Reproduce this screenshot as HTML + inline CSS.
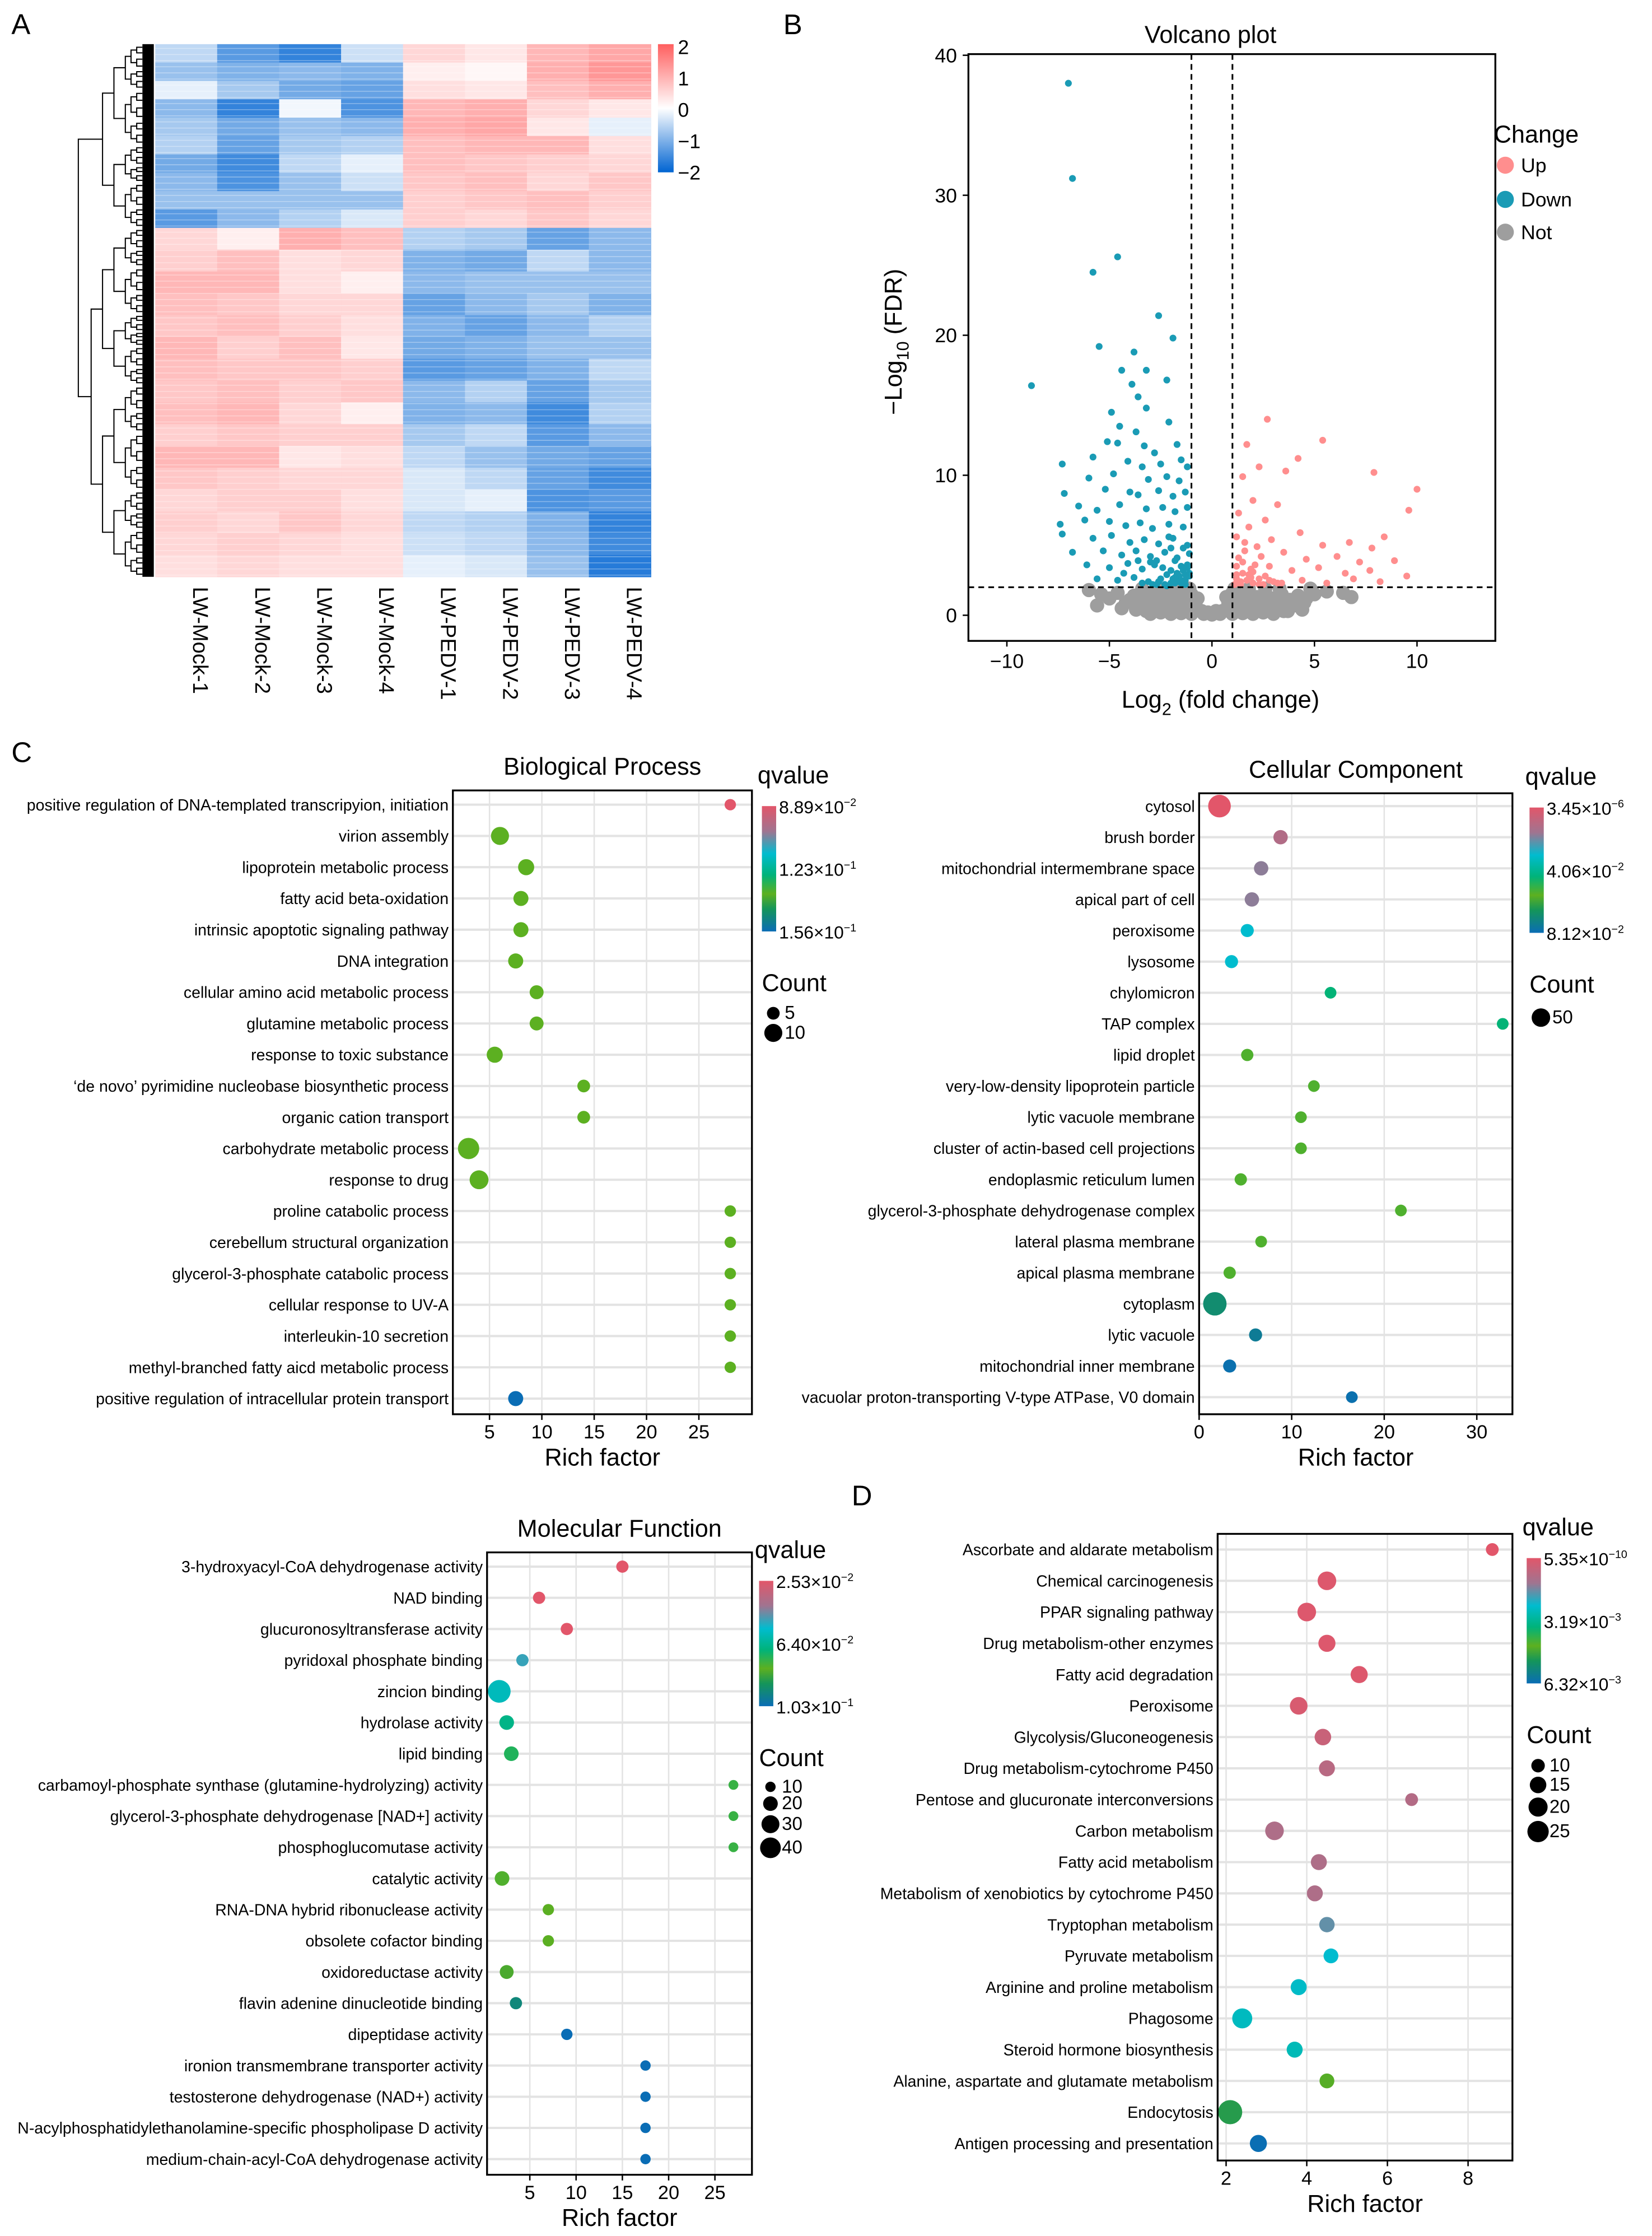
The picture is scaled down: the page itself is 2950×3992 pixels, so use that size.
<!DOCTYPE html>
<html><head><meta charset="utf-8">
<style>
html,body{margin:0;padding:0;background:#fff;}
svg{display:block;}
text{font-family:"Liberation Sans",Arial,sans-serif;fill:#000;}
</style></head>
<body>
<svg id="fig" xmlns="http://www.w3.org/2000/svg" width="2950" height="3992" viewBox="0 0 1160 1570" preserveAspectRatio="none">
<defs>
<linearGradient id="hmgrad" x1="0" y1="0" x2="0" y2="1">
<stop offset="0" stop-color="#ff5f5f"/><stop offset="0.5" stop-color="#ffffff"/><stop offset="1" stop-color="#0064d2"/>
</linearGradient>
<linearGradient id="qgrad" x1="0" y1="0" x2="0" y2="1">
<stop offset="0" stop-color="#e2566a"/><stop offset="0.2" stop-color="#a07490"/><stop offset="0.38" stop-color="#00bccf"/><stop offset="0.55" stop-color="#00b37a"/><stop offset="0.7" stop-color="#5db020"/><stop offset="0.82" stop-color="#14955a"/><stop offset="1" stop-color="#0a6db5"/>
</linearGradient>
</defs>
<g id="root"></g>
</svg>
<script>
// ---------- Heatmap data ----------
const hmSamples=["LW-Mock-1","LW-Mock-2","LW-Mock-3","LW-Mock-4","LW-PEDV-1","LW-PEDV-2","LW-PEDV-3","LW-PEDV-4"];
const hmRows=[
[-0.5,-1.3,-1.6,-0.4,0.5,0.3,0.9,1.1],
[-0.8,-1.0,-0.9,-1.0,0.2,0.1,1.0,1.3],
[-0.2,-0.7,-1.1,-1.2,0.4,0.3,0.8,1.0],
[-0.9,-1.6,-0.1,-1.4,0.9,1.0,0.5,0.3],
[-0.7,-1.1,-0.8,-0.9,1.0,1.1,0.3,-0.2],
[-0.6,-1.2,-0.7,-0.6,0.8,0.9,0.9,0.4],
[-1.1,-1.5,-0.5,-0.2,0.8,0.7,0.6,0.5],
[-0.9,-1.4,-0.8,-0.4,0.7,0.8,0.5,0.7],
[-0.8,-0.8,-0.8,-0.8,0.6,0.7,0.8,0.6],
[-1.3,-0.9,-0.6,-0.3,0.6,0.5,0.7,0.5],
[0.5,0.2,1.0,0.8,-0.6,-0.7,-1.2,-0.9],
[0.6,0.8,0.4,0.5,-1.0,-1.1,-0.5,-0.9],
[0.9,0.9,0.4,0.2,-0.9,-0.8,-0.8,-0.8],
[0.8,0.7,0.5,0.5,-1.2,-0.9,-0.7,-1.0],
[0.7,0.8,0.6,0.4,-1.0,-1.2,-0.9,-0.6],
[0.9,0.6,0.8,0.3,-1.1,-1.0,-0.8,-0.8],
[0.8,0.7,0.7,0.6,-1.3,-1.2,-1.0,-0.5],
[0.7,0.8,0.6,0.7,-0.9,-0.6,-1.2,-0.7],
[0.8,0.9,0.5,0.2,-1.0,-0.9,-1.5,-0.6],
[0.6,0.7,0.6,0.6,-0.7,-0.5,-1.3,-0.9],
[0.9,0.9,0.3,0.4,-0.5,-0.8,-1.1,-1.2],
[0.7,0.6,0.5,0.5,-0.3,-0.5,-1.2,-1.5],
[0.5,0.6,0.6,0.4,-0.3,-0.2,-1.4,-1.3],
[0.6,0.5,0.7,0.5,-0.5,-0.6,-1.0,-1.6],
[0.5,0.6,0.5,0.4,-0.4,-0.5,-0.9,-1.5],
[0.4,0.5,0.4,0.4,-0.2,-0.3,-0.8,-1.7]
];
// ---------- Volcano data ----------
const upX=[7.9,10,9.6,2.7,5.4,1.7,4.2,3.6,1.5,2.3,2.0,3.2,8.4,7.8,6.7,1.3,2.6,1.8,1.2,2.9,4.3,5.4,1.6,2.4,3.5,4.6,6.1,7.2,8.9,1.2,2.0,2.8,3.9,5.2,6.5,7.7,9.5,1.4,2.3,3.2,4.4,5.6,6.9,8.2,1.8,1.1,1.5,2.1,1.3,1.9,2.5,1.6,1.2,2.2,3.0,1.4,1.7,2.0,2.6,1.2,1.5,1.9,2.3,2.8,3.4];
const upY=[10.2,9,7.5,14,12.5,12.2,11.2,10.3,9.9,10.6,8.2,7.9,5.6,4.8,5.2,7.3,6.8,6.3,5.6,5.4,5.9,5.0,4.6,4.2,4.5,4.0,4.2,3.8,3.9,3.5,3.1,3.5,3.2,3.4,3.0,3.2,2.8,2.4,2.6,2.3,2.5,2.3,2.6,2.4,2.9,2.2,3.8,3.6,4.1,2.7,2.2,5.2,2.9,4.9,2.4,2.2,2.5,2.3,2.8,2.6,3.0,3.3,2.2,2.5,2.3];
const downX=[-7,-6.8,-5.8,-4.6,-8.8,-2.6,-1.9,-3.8,-3.2,-5.5,-4.4,-3.9,-3.6,-2.2,-4.9,-3.2,-4.5,-3.7,-2.1,-5.1,-4.6,-3.3,-2.8,-1.7,-7.3,-5.8,-4.1,-3.4,-2.5,-1.5,-1.2,-6.0,-4.8,-3.1,-2.2,-1.6,-7.2,-5.2,-4.0,-3.6,-2.6,-1.9,-1.3,-6.5,-5.6,-4.5,-3.2,-2.4,-1.8,-1.2,-7.4,-6.2,-5.0,-4.2,-3.5,-2.9,-2.1,-1.4,-7.3,-5.8,-4.9,-4.0,-3.3,-2.6,-1.9,-1.2,-6.8,-5.3,-4.4,-3.7,-3.0,-2.3,-1.7,-1.1,-6.1,-5.0,-4.1,-3.4,-2.8,-2.0,-1.5,-1.1,-5.6,-4.6,-3.8,-3.1,-2.5,-1.8,-1.3,-4.3,-2.2,-3.6,-2.7,-1.6,-2.0,-1.4,-2.4,-1.8,-1.2,-2.9,-1.5,-2.2,-1.3,-1.6,-1.9,-2.3,-2.6,-1.1,-1.4,-1.7,-2.0,-1.2,-1.5,-1.8,-3.0,-3.4,-2.7,-1.3,-2.1];
const downY=[38,31.2,24.5,25.6,16.4,21.4,19.8,18.8,17.5,19.2,17.5,16.5,15.6,16.8,14.5,14.8,13.5,13.1,13.8,12.4,12.3,12.1,11.6,12.2,10.8,11.3,11,10.6,10.8,11.1,10.6,9.8,10.1,9.7,9.9,9.6,8.7,9.0,8.8,8.6,8.9,8.5,8.8,7.8,7.5,7.9,7.6,7.7,7.4,7.7,6.5,6.8,6.7,6.4,6.6,6.2,6.5,6.3,5.8,5.5,5.7,5.2,5.4,5.1,5.5,5.0,4.5,4.6,4.3,4.6,4.2,4.5,4.1,4.4,3.6,3.4,3.7,3.3,3.6,3.2,3.5,3.0,2.6,2.5,2.7,2.4,2.6,2.3,2.5,3.0,2.9,3.9,3.9,2.8,4.8,4.8,3.4,3.9,3.6,2.2,2.3,2.1,2.2,2.4,2.6,2.2,2.4,2.8,3.2,3.0,2.3,3.4,2.5,2.7,3.8,2.3,2.2,2.9,5.6,6.8];
const notX=[-6,-5.4,-5,-4.6,-4.2,-3.8,-3.4,-3.0,-2.6,-2.2,-1.8,-1.4,-1.0,-0.7,0.7,1.0,1.4,1.8,2.2,2.6,3.0,3.4,3.8,4.2,4.6,5.0,5.6,6.4,-4.4,-3.6,-3.2,-2.8,-2.4,-2.0,-1.6,-1.2,-0.9,-0.5,0.5,0.9,1.2,1.6,2.0,2.4,2.8,3.2,3.6,4.0,4.4,-3.0,-2.5,-2.0,-1.5,-1.0,-0.4,0,0.4,1.0,1.5,2.0,2.5,3.0,3.5,-3.4,-2.6,-1.8,-1.1,1.1,1.8,2.6,3.3,4.8,-5.6,6.8,-4.0,-3.2,-2.4,-1.6,-0.8,0.8,1.6,2.4,3.2,4.0,-3.7,-2.9,-2.1,-1.3,1.3,2.1,2.9,3.7,4.5,-0.2,0.2];
const notY=[1.8,1.5,1.2,1.6,0.9,1.4,1.0,1.5,1.2,1.6,1.3,1.7,1.5,1.2,1.3,1.6,1.4,1.7,1.3,1.6,1.2,1.5,1.1,1.4,1.2,1.5,1.7,1.6,0.5,0.6,0.3,0.8,0.4,0.7,0.3,0.6,0.5,0.3,0.3,0.5,0.7,0.3,0.6,0.4,0.8,0.4,0.6,0.7,0.4,0.1,0.2,0.1,0.15,0.1,0.1,0.05,0.1,0.1,0.15,0.1,0.2,0.1,0.3,1.9,1.9,1.9,1.9,1.9,1.9,1.9,1.9,1.9,0.7,1.3,1.1,1.2,1.0,1.0,0.9,0.9,1.0,1.1,1.0,1.0,0.4,0.5,0.5,0.8,0.8,0.5,0.3,0.3,0.9,0.2,0.3];
const volXTicks=[-10,-5,0,5,10];
const volYTicks=[0,10,20,30,40];
// ---------- Biological Process ----------
const bpTerms=["positive regulation of DNA-templated transcripyion, initiation","virion assembly","lipoprotein metabolic process","fatty acid beta-oxidation","intrinsic apoptotic signaling pathway","DNA integration","cellular amino acid metabolic process","glutamine metabolic process","response to toxic substance","\u2018de novo\u2019 pyrimidine nucleobase biosynthetic process","organic cation transport","carbohydrate metabolic process","response to drug","proline catabolic process","cerebellum structural organization","glycerol-3-phosphate catabolic process","cellular response to UV-A","interleukin-10 secretion","methyl-branched fatty aicd metabolic process","positive regulation of intracellular protein transport"];
const bpRich=[28,6,8.5,8,8,7.5,9.5,9.5,5.5,14,14,3,4,28,28,28,28,28,28,7.5];
const bpCount=[4,10,8,7,7,7,6,6,8,5,5,14,11,4,4,4,4,4,4,7];
const bpQ=[0.0889,0.136,0.136,0.136,0.136,0.136,0.136,0.136,0.136,0.136,0.136,0.136,0.136,0.136,0.136,0.136,0.136,0.136,0.136,0.156];
// ---------- Cellular Component ----------
const ccTerms=["cytosol","brush border","mitochondrial intermembrane space","apical part of cell","peroxisome","lysosome","chylomicron","TAP complex","lipid droplet","very-low-density lipoprotein particle","lytic vacuole membrane","cluster of actin-based cell projections","endoplasmic reticulum lumen","glycerol-3-phosphate dehydrogenase complex","lateral plasma membrane","apical plasma membrane","cytoplasm","lytic vacuole","mitochondrial inner membrane","vacuolar proton-transporting V-type ATPase, V0 domain"];
const ccRich=[2.2,8.8,6.7,5.7,5.2,3.5,14.2,32.8,5.2,12.4,11,11,4.5,21.8,6.7,3.3,1.7,6.1,3.3,16.5];
const ccCount=[75,30,30,30,25,25,20,20,22,20,20,20,22,20,20,22,80,25,25,20];
const ccQ=[0.0,0.012,0.018,0.018,0.031,0.031,0.045,0.045,0.055,0.055,0.055,0.055,0.055,0.055,0.055,0.055,0.07,0.076,0.08,0.08];
// ---------- Molecular Function ----------
const mfTerms=["3-hydroxyacyl-CoA dehydrogenase activity","NAD binding","glucuronosyltransferase activity","pyridoxal phosphate binding","zincion binding","hydrolase activity","lipid binding","carbamoyl-phosphate synthase (glutamine-hydrolyzing) activity","glycerol-3-phosphate dehydrogenase [NAD+] activity","phosphoglucomutase activity","catalytic activity","RNA-DNA hybrid ribonuclease activity","obsolete cofactor binding","oxidoreductase activity","flavin adenine dinucleotide binding","dipeptidase activity","ironion transmembrane transporter activity","testosterone dehydrogenase (NAD+) activity","N-acylphosphatidylethanolamine-specific phospholipase D activity","medium-chain-acyl-CoA dehydrogenase activity"];
const mfRich=[15,6,9,4.2,1.7,2.5,3,27,27,27,2,7,7,2.5,3.5,9,17.5,17.5,17.5,17.5];
const mfCount=[14,14,14,14,48,20,20,9,9,9,20,12,12,18,14,12,10,10,10,10];
const mfQ=[0.0253,0.0253,0.0253,0.05,0.058,0.066,0.072,0.075,0.075,0.075,0.078,0.08,0.08,0.082,0.094,0.103,0.103,0.103,0.103,0.103];
// ---------- KEGG ----------
const kgTerms=["Ascorbate and aldarate metabolism","Chemical carcinogenesis","PPAR signaling pathway","Drug metabolism-other enzymes","Fatty acid degradation","Peroxisome","Glycolysis/Gluconeogenesis","Drug metabolism-cytochrome P450","Pentose and glucuronate interconversions","Carbon metabolism","Fatty acid metabolism","Metabolism of xenobiotics by cytochrome P450","Tryptophan metabolism","Pyruvate metabolism","Arginine and proline metabolism","Phagosome","Steroid hormone biosynthesis","Alanine, aspartate and glutamate metabolism","Endocytosis","Antigen processing and presentation"];
const kgRich=[8.6,4.5,4,4.5,5.3,3.8,4.4,4.5,6.6,3.2,4.3,4.2,4.5,4.6,3.8,2.4,3.7,4.5,2.1,2.8];
const kgCount=[9,19,19,16,16,17,15,14,9,19,14,14,13,12,14,22,14,12,32,16];
const kgQ=[0.00000000054,0.0001,0.0001,0.0001,0.0001,0.0002,0.0005,0.0008,0.0009,0.0010,0.0010,0.0010,0.0017,0.0024,0.0025,0.0026,0.0027,0.0045,0.0050,0.0063];

// ---------- helpers ----------
const NS="http://www.w3.org/2000/svg";
const root=document.getElementById('root');
function mk(tag,attrs,parent,txt){const e=document.createElementNS(NS,tag);for(const k in attrs)e.setAttribute(k,attrs[k]);if(txt!==undefined)e.textContent=txt;(parent||root).appendChild(e);return e;}
function hex(c){return [parseInt(c.slice(1,3),16),parseInt(c.slice(3,5),16),parseInt(c.slice(5,7),16)];}
function lerpC(a,b,t){const A=hex(a),B=hex(b);return 'rgb('+A.map((v,i)=>Math.round(v+(B[i]-v)*t)).join(',')+')';}
const qStops=[[0,'#e2566a'],[0.2,'#a07490'],[0.38,'#00bccf'],[0.55,'#00b37a'],[0.7,'#5db020'],[0.82,'#14955a'],[1,'#0a6db5']];
function qColor(t){t=Math.max(0,Math.min(1,t));for(let i=1;i<qStops.length;i++){if(t<=qStops[i][0]){const a=qStops[i-1],b=qStops[i];return lerpC(a[1],b[1],(t-a[0])/(b[0]-a[0]));}}return qStops[qStops.length-1][1];}
function hmColor(v){v=Math.max(-2,Math.min(2,v));return v>=0?lerpC('#ffffff','#ff5f5f',v/2):lerpC('#ffffff','#0064d2',-v/2);}
function sciLabel(g,x,y,mant,exp,fs){const t=mk('text',{x:x,y:y,'font-size':fs},g);
 mk('tspan',{},t,mant+'\u00d710');mk('tspan',{dy:-5,'font-size':fs*0.62},t,exp);return t;}

// ---------- panel letters ----------
[['A',8,24],['B',550,24],['C',8,535],['D',598,1057]].forEach(p=>{const t=mk('text',{x:p[1],y:p[2],'font-size':20},root,p[0]);});

// ---------- Heatmap ----------
(function(){
 const g=mk('g',{});
 const x0=109,x1=457,y0=31,y1=405;const cw=(x1-x0)/hmSamples.length;
 const split=160;const nTop=10,nBot=hmRows.length-10;
 hmRows.forEach((row,r)=>{let ya,yb;if(r<nTop){ya=y0+(split-y0)*r/nTop;yb=y0+(split-y0)*(r+1)/nTop;}else{ya=split+(y1-split)*(r-nTop)/nBot;yb=split+(y1-split)*(r-nTop+1)/nBot;}
  row.forEach((v,c)=>{const e=mk('rect',{x:x0+c*cw,y:ya,width:cw+0.3,height:yb-ya+0.3,fill:hmColor(v)},g);});
 });
 // thin striation lines for texture
 const sg=mk('g',{stroke:'#ffffff','stroke-width':0.6,opacity:0.35},g);
 for(let yy=y0+3;yy<y1;yy+=4.3){mk('line',{x1:x0,y1:yy,x2:x1,y2:yy},sg);}
 hmSamples.forEach((s,c)=>{const cx=x0+c*cw+cw/2+5;const t=mk('text',{x:cx,y:412,'font-size':15,transform:'rotate(90 '+cx+' 412)'},g,s);});
 const cb=mk('rect',{x:462,y:31,width:11,height:90,fill:'url(#hmgrad)'},g);
 [['2',0],['1',1],['0',2],['\u22121',3],['\u22122',4]].forEach(l=>{const t=mk('text',{x:476,y:38+l[1]*22,'font-size':14},g,l[0]);});
 const dg=mk('g',{stroke:'#000','stroke-width':0.8,fill:'none'},g);
 function node(a,b,depth,xr){const mid=(a+b)/2;if(depth===0){return {y:mid,x:xr};}
  const s=a+(b-a)*(0.45+0.1*((depth%2)));const L=node(a,s,depth-1,xr),R=node(s,b,depth-1,xr);const x=Math.min(L.x,R.x)-(depth>3?8:4);
  mk('path',{d:'M'+L.x+','+L.y+'H'+x+'V'+R.y+'H'+R.x},dg);return {y:(L.y+R.y)/2,x:x};}
 const T=node(y0,split,5,100),B=node(split,y1,6,100);
 mk('path',{d:'M'+T.x+','+T.y+'H55V'+B.y+'H'+B.x},dg);
 const lb=mk('rect',{x:100,y:y0,width:8,height:y1-y0,fill:'#000'},g);
})();

// ---------- Volcano ----------
(function(){
 const g=mk('g',{});
 const bx0=680,bx1=1050,by0=38,by1=450;
 const X=v=>851+v*14.4, Y=v=>432-v*9.83;
 const ng=mk('g',{fill:'#9e9e9e'},g);
 notX.forEach((x,i)=>{const c=mk('circle',{cx:X(x),cy:Y(notY[i]),r:5},ng);});
 const dg=mk('g',{fill:'#1a9bb5'},g);
 downX.forEach((x,i)=>{const c=mk('circle',{cx:X(x),cy:Y(downY[i]),r:2.4},dg);});
 const ug=mk('g',{fill:'#ff8e8e'},g);
 upX.forEach((x,i)=>{const c=mk('circle',{cx:X(x),cy:Y(upY[i]),r:2.4},ug);});
 [[X(-1),by0,X(-1),by1],[X(1),by0,X(1),by1],[bx0,Y(2),bx1,Y(2)]].forEach(l=>{const e=mk('line',{x1:l[0],y1:l[1],x2:l[2],y2:l[3],stroke:'#000','stroke-width':1.2,'stroke-dasharray':'4,3'},g);});
 const bx=mk('rect',{x:bx0,y:by0,width:bx1-bx0,height:by1-by0,fill:'none',stroke:'#000','stroke-width':1.3},g);
 volXTicks.forEach(v=>{mk('line',{x1:X(v),y1:by1,x2:X(v),y2:by1+4,stroke:'#000'},g);const t=mk('text',{x:X(v),y:by1+19,'font-size':14,'text-anchor':'middle'},g,v<0?'\u2212'+(-v):String(v));});
 volYTicks.forEach(v=>{mk('line',{x1:bx0-4,y1:Y(v),x2:bx0,y2:Y(v),stroke:'#000'},g);const t=mk('text',{x:bx0-8,y:Y(v)+5,'font-size':14,'text-anchor':'end'},g,String(v));});
 const tt=mk('text',{x:850,y:30,'font-size':17,'text-anchor':'middle'},g,'Volcano plot');
 const xt=mk('text',{x:857,y:497,'font-size':17,'text-anchor':'middle'},g);
 mk('tspan',{},xt,'Log');mk('tspan',{dy:5,'font-size':12},xt,'2');mk('tspan',{dy:-5},xt,' (fold change)');
 const yt=mk('text',{x:633,y:240,'font-size':17,'text-anchor':'middle',transform:'rotate(-90 633 240)'},g);
 mk('tspan',{},yt,'\u2212Log');mk('tspan',{dy:5,'font-size':12},yt,'10');mk('tspan',{dy:-5},yt,' (FDR)');
 const lt=mk('text',{x:1049,y:100,'font-size':17},g,'Change');
 [['Up','#ff8e8e',116],['Down','#1a9bb5',140],['Not','#9e9e9e',163]].forEach(l=>{const c=mk('circle',{cx:1057,cy:l[2],r:6,fill:l[1]},g);const t=mk('text',{x:1068,y:l[2]+5,'font-size':14},g,l[0]);});
})();

// ---------- Dot panels ----------
function dotPanel(c){
 const g=mk('g',{});
 const [bx0,by0,bx1,by1]=c.box;
 const X=v=>bx0+(v-c.xmin)/(c.xmax-c.xmin)*(bx1-bx0);
 const n=c.terms.length;const Y=i=>c.rowTop+(c.rowBot-c.rowTop)*i/(n-1);
 const gg=mk('g',{stroke:'#e3e3e3','stroke-width':1},g);
 c.ticks.forEach(v=>mk('line',{x1:X(v),y1:by0,x2:X(v),y2:by1},gg));
 c.terms.forEach((t,i)=>mk('line',{x1:bx0,y1:Y(i),x2:bx1,y2:Y(i),'stroke-width':1.6},gg));
 c.terms.forEach((t,i)=>{
  const col=qColor((c.q[i]-c.qmin)/(c.qmax-c.qmin));
  const d=mk('circle',{cx:X(c.rich[i]),cy:Y(i),r:c.k*Math.sqrt(c.count[i]),fill:col},g);
  const l=mk('text',{x:bx0-3,y:Y(i)+4,'font-size':11.2,'text-anchor':'end'},g,t);
 });
 const fr=mk('rect',{x:bx0,y:by0,width:bx1-bx0,height:by1-by0,fill:'none',stroke:'#000','stroke-width':1.3},g);
 c.ticks.forEach(v=>{mk('line',{x1:X(v),y1:by1,x2:X(v),y2:by1+4,stroke:'#000'},g);const t=mk('text',{x:X(v),y:by1+17,'font-size':13.5,'text-anchor':'middle'},g,String(v));});
 const xt=mk('text',{x:(bx0+bx1)/2,y:by1+36,'font-size':17,'text-anchor':'middle'},g,'Rich factor');
 if(c.title){const tt=mk('text',{x:(bx0+bx1)/2,y:by0-11,'font-size':17,'text-anchor':'middle'},g,c.title);}
 const [cx,cy]=c.cbar;
 const qt=mk('text',{x:cx-3,y:cy-16,'font-size':17},g,'qvalue');
 const cb=mk('rect',{x:cx,y:cy,width:10,height:88,fill:'url(#qgrad)'},g);
 c.qlabels.forEach((l,i)=>sciLabel(g,cx+12,cy+5+i*44,l[0],l[1],12.5));
 const ct=mk('text',{x:cx,y:cy+130,'font-size':17},g,'Count');
 let yy=cy+140;
 c.legCounts.forEach(v=>{const r=c.k*Math.sqrt(v);yy+=r+1;const d=mk('circle',{cx:cx+8,cy:yy,r:r,fill:'#000'},g);
  const t=mk('text',{x:cx+16,y:yy+4,'font-size':13},g,String(v));yy+=r+2;});
}
dotPanel({name:'biological-process-panel',title:'Biological Process',box:[318,555,528,993],xmin:1.5,xmax:30.07,ticks:[5,10,15,20,25],rowTop:565,rowBot:982,terms:bpTerms,rich:bpRich,count:bpCount,q:bpQ,qmin:0.0889,qmax:0.156,k:2.0,cbar:[535,566],qlabels:[['8.89','\u22122'],['1.23','\u22121'],['1.56','\u22121']],legCounts:[5,10]});
dotPanel({name:'cellular-component-panel',title:'Cellular Component',box:[842,557,1062,993],xmin:0,xmax:33.85,ticks:[0,10,20,30],rowTop:566,rowBot:981,terms:ccTerms,rich:ccRich,count:ccCount,q:ccQ,qmin:0,qmax:0.0812,k:0.92,cbar:[1074,567],qlabels:[['3.45','\u22126'],['4.06','\u22122'],['8.12','\u22122']],legCounts:[50]});
dotPanel({name:'molecular-function-panel',title:'Molecular Function',box:[342,1090,528,1527],xmin:0.38,xmax:29,ticks:[5,10,15,20,25],rowTop:1100,rowBot:1516,terms:mfTerms,rich:mfRich,count:mfCount,q:mfQ,qmin:0.0253,qmax:0.103,k:1.15,cbar:[533,1110],qlabels:[['2.53','\u22122'],['6.40','\u22122'],['1.03','\u22121']],legCounts:[10,20,30,40]});
dotPanel({name:'kegg-pathway-panel',title:'',box:[855,1077,1062,1517],xmin:1.79,xmax:9.1,ticks:[2,4,6,8],rowTop:1088,rowBot:1505,terms:kgTerms,rich:kgRich,count:kgCount,q:kgQ,qmin:0,qmax:0.00632,k:1.5,cbar:[1072,1094],qlabels:[['5.35','\u221210'],['3.19','\u22123'],['6.32','\u22123']],legCounts:[10,15,20,25]});
</script>
</body></html>
